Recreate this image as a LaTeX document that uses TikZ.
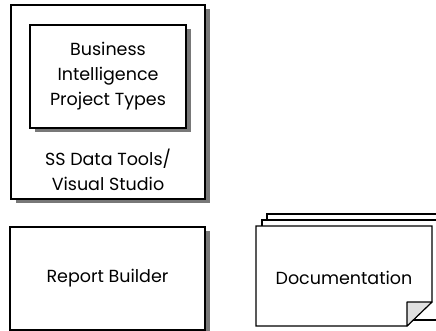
\documentclass[tikz,border=0pt]{standalone}
\usepackage{fontspec}
\setmainfont{Poppins}
\usetikzlibrary{positioning, shadows}
\definecolor{shadowgray}{RGB}{120,120,120}
\definecolor{foldgray}{RGB}{224,224,224}

\begin{document}
\begin{tikzpicture}[
            x=1pt, y=-1pt,
            box/.style={draw=black, fill=white, line width=1.1pt, inner sep=0pt, align=center,
                font=\fontsize{17.5}{25}\selectfont,
                drop shadow={shadow xshift=5pt, shadow yshift=-4pt, fill=shadowgray, opacity=1}},
            page/.style={draw=black, fill=white, line width=1.1pt},
            label/.style={align=center, font=\fontsize{17.5}{25}\selectfont}
        ]
            \clip (0,0) rectangle (436,331);
            \useasboundingbox (0,0) rectangle (436,331);

            % Outer box with project types
            \node[box, minimum width=194pt, minimum height=194pt] (studio) at (108,102) {};
            \node[box, minimum width=156pt, minimum height=103pt] (bitypes) at (108,76.5)
                {Business\\Intelligence\\Project Types};
            \node[label] (sstools) at (108,169.5) {SS Data Tools/\\Visual Studio};

            % Report builder
            \node[box, minimum width=195pt, minimum height=103pt] (builder) at (107.5,278.5)
                {Report Builder};

            % Stack of pages
            \draw[page] (267,314) -- (267,214) -- (446,214) -- (446,314) -- cycle;
            \draw[page] (262,320) -- (262,220) -- (441,220) -- (441,320) -- cycle;
            \draw[page] (256,326) -- (256,226) -- (432,226) -- (432,302) -- (407,326) -- cycle;
            \draw[page, fill=foldgray, line join=round] (407,326) -- (407,302) -- (432,302) -- cycle;
            \node[label] (docs) at (344,278) {Documentation};
        \end{tikzpicture}
\end{document}
